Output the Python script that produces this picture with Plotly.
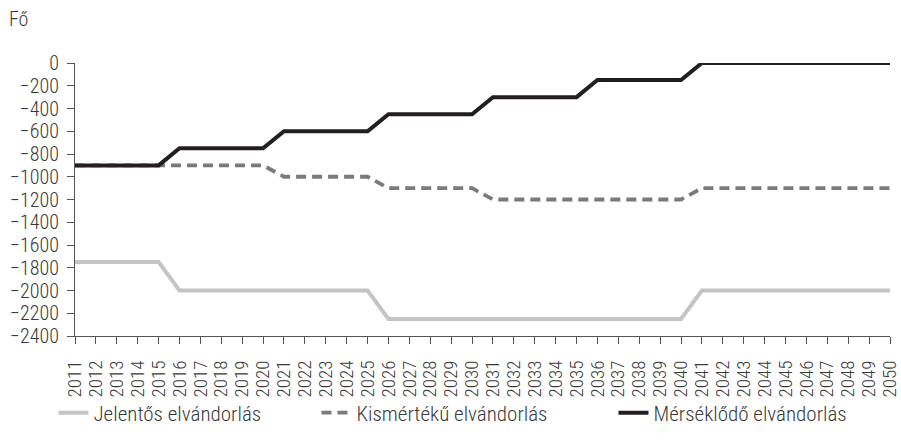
import plotly.graph_objects as go

years = list(range(2011, 2051))

# Scenario values (fő), piecewise constant by five-year blocks
jelentos = [-1750] * 5 + [-2000] * 10 + [-2250] * 15 + [-2000] * 10
kismerteku = [-900] * 10 + [-1000] * 5 + [-1100] * 5 + [-1200] * 10 + [-1100] * 10
mersekledo = [-900] * 5 + [-750] * 5 + [-600] * 5 + [-450] * 5 + [-300] * 5 + [-150] * 5 + [0] * 10

y_ticks = list(range(0, -2401, -200))
y_tick_text = [str(v).replace("-", "\u2212") for v in y_ticks]

FONT = "Roboto Condensed, DejaVu Sans Condensed, sans-serif"
TEXT = "#3a3a3a"

fig = go.Figure()
fig.add_trace(go.Scatter(
    x=years, y=jelentos, mode="lines", name="Jelentős elvándorlás",
    line=dict(color="#c4c4c4", width=4), legend="legend",
))
fig.add_trace(go.Scatter(
    x=years, y=kismerteku, mode="lines", name="Kismértékű elvándorlás",
    line=dict(color="#7a7a7a", width=3.8, dash="10px,6px"), legend="legend2",
))
fig.add_trace(go.Scatter(
    x=years, y=mersekledo, mode="lines", name="Mérséklődő elvándorlás",
    line=dict(color="#231f20", width=4), legend="legend3",
))

legend_style = dict(
    orientation="h", xanchor="left", y=-0.282, yanchor="middle",
    font=dict(size=21, color=TEXT, weight=300), bgcolor="rgba(0,0,0,0)",
)

fig.update_layout(
    width=901, height=441,
    margin=dict(l=75, r=11, t=63, b=105, autoexpand=False),
    paper_bgcolor="white", plot_bgcolor="white",
    font=dict(family=FONT, color=TEXT, size=19, weight=300),
    showlegend=True,
    legend=dict(x=-0.0264, **legend_style),
    legend2=dict(x=0.2963, **legend_style),
    legend3=dict(x=0.6607, **legend_style),
    annotations=[dict(
        text="Fő", xref="paper", yref="paper", x=-0.083, y=1.11,
        xanchor="left", yanchor="bottom", showarrow=False,
        font=dict(size=20, color=TEXT, weight=300),
    )],
)

fig.update_xaxes(
    range=[2011, 2050], tickmode="array", tickvals=years,
    ticktext=[str(y) for y in years], tickangle=-90, automargin=False,
    ticklabelstandoff=9, ticklabeloverflow="allow",
    showgrid=False, zeroline=False, showline=True, linecolor="#555555",
    linewidth=1, ticks="outside", ticklen=7, tickcolor="#555555",
    tickfont=dict(size=19, color=TEXT, weight=300),
)
fig.update_yaxes(
    range=[-2400, 0], tickmode="array", tickvals=y_ticks, ticktext=y_tick_text,
    automargin=False, ticklabelstandoff=4,
    showgrid=False, zeroline=False, showline=True, linecolor="#555555",
    linewidth=1, ticks="outside", ticklen=7, tickcolor="#555555",
    tickfont=dict(size=20, color=TEXT, weight=300),
)

fig.write_html("out.html")
